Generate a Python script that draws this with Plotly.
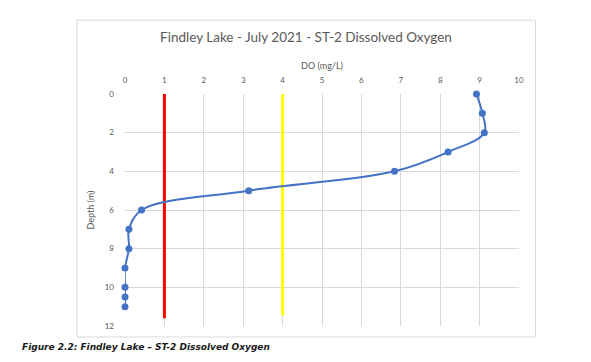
import plotly.graph_objects as go

depth = [0, 1, 2, 3, 4, 5, 6, 7, 8, 9, 10, 10.5, 11]
do_vals = [8.92, 9.07, 9.12, 8.2, 6.84, 3.14, 0.42, 0.1, 0.1, 0.0, 0.0, 0.0, 0.0]

red_x = [1, 1]
red_depth = [0, 11.6]
yellow_x = [4, 4]
yellow_depth = [0, 11.45]

title = "Findley Lake - July 2021 - ST-2 Dissolved Oxygen"
x_title = "DO (mg/L)"
y_title = "Depth (m)"
caption = "Figure 2.2: Findley Lake \u2013 ST-2 Dissolved Oxygen"

OFF = 8  # default page body margin
W, H = 591 - 2 * OFF, 362 - 2 * OFF
L, R, T, B = 125 - OFF, 519 - OFF, 93.5 - OFF, 326 - OFF

def px(x):
    return (x - OFF - L) / (R - L)

def py(y):
    return (B - (y - OFF)) / (B - T)

fig = go.Figure()
fig.add_trace(go.Scatter(x=red_x, y=red_depth, mode="lines",
                         line=dict(color="#ff0000", width=3), showlegend=False))
fig.add_trace(go.Scatter(x=yellow_x, y=yellow_depth, mode="lines",
                         line=dict(color="#ffff00", width=3), showlegend=False))
fig.add_trace(go.Scatter(x=do_vals, y=depth, mode="lines+markers",
                         line=dict(color="#4472c4", width=2, shape="spline", smoothing=1),
                         marker=dict(color="#4472c4", size=7),
                         cliponaxis=False, showlegend=False))

font_family = "Lato, 'Open Sans', sans-serif"

fig.update_layout(
    width=W, height=H,
    margin=dict(l=L, r=W - R, t=T, b=H - B, autoexpand=False),
    paper_bgcolor="white", plot_bgcolor="white",
    font=dict(family=font_family, color="#595959"),
    title=dict(text=title, x=px(306), xref="paper", xanchor="center",
               y=1 - (37 - OFF) / H, yanchor="middle",
               font=dict(size=13.5, color="#595959", family=font_family)),
    xaxis=dict(side="top", range=[0, 10], dtick=1, tick0=0,
               showgrid=True, gridcolor="#d9d9d9", gridwidth=1,
               zeroline=False, showline=False, automargin=False,
               ticks="", ticklabelstandoff=8,
               tickfont=dict(size=8, color="#595959"),
               title=dict(text=x_title, font=dict(size=9, color="#595959"), standoff=4)),
    yaxis=dict(range=[12, 0], dtick=2, tick0=0,
               showgrid=True, gridcolor="#d9d9d9", gridwidth=1,
               zeroline=False, showline=False, automargin=False,
               ticks="", ticklabelstandoff=10,
               tickfont=dict(size=8, color="#595959"),
               title=dict(text=y_title, font=dict(size=9, color="#595959"), standoff=8)),
    shapes=[dict(type="rect", xref="paper", yref="paper",
                 x0=px(77), x1=px(535.5), y0=py(337), y1=py(19.5),
                 line=dict(color="#d9d9d9", width=1), fillcolor="rgba(0,0,0,0)",
                 layer="below")],
    annotations=[dict(text="<b><i>" + caption + "</i></b>", xref="paper", yref="paper",
                      x=px(20), y=py(347), xanchor="left", yanchor="middle",
                      showarrow=False,
                      font=dict(size=9, color="#1a1a1a", family="'DejaVu Sans', sans-serif"))],
)

fig.write_html("out.html")
